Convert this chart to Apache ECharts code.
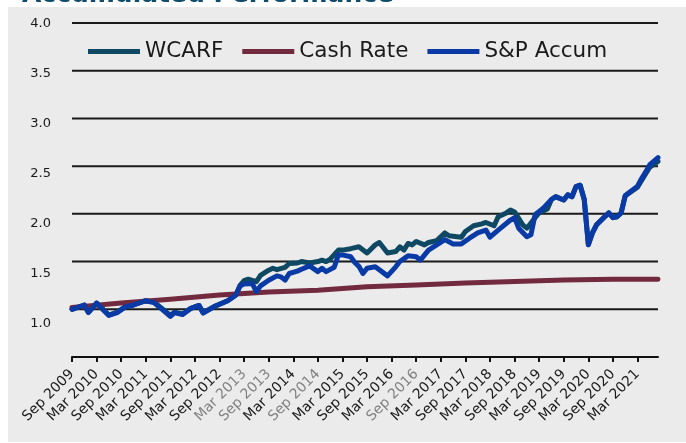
<!DOCTYPE html>
<html>
<head>
<meta charset="utf-8">
<script src="https://cdn.jsdelivr.net/npm/echarts@6.0.0/dist/echarts.min.js"></script>
<style>
  body { margin: 0; background: #ffffff; }
  #chart { width: 686px; height: 443px; }
</style>
</head>
<body>
<div id="chart"></div>
<script>
var FONT = '"DejaVu Sans", Verdana, sans-serif';
var title = 'Accumulated Performance';

// monthly categories, Sep 2009 .. Aug 2021
var monthNames = ['Jan', 'Feb', 'Mar', 'Apr', 'May', 'Jun', 'Jul', 'Aug', 'Sep', 'Oct', 'Nov', 'Dec'];
var months = [];
for (var k = 0; k < 144; k++) {
  var m = (8 + k) % 12;
  var yr = 2009 + Math.floor((8 + k) / 12);
  months.push(monthNames[m] + ' ' + yr);
}
// labels that come out grey in the original picture
var greyLabels = ['Mar 2013', 'Sep 2013', 'Sep 2014', 'Sep 2016'];
var yLabels = ['1.0', '1.5', '2.0', '2.5', '3.0', '3.5', '4.0'];
// horizontal rules (0.5 is the x axis itself)
var gridLevels = [1.0, 1.5, 2.0, 2.5, 3.0, 3.5, 4.0];

// [month index, value]
var wcarf = [[0,1.0],[3,1.045],[4,0.97],[6,1.065],[9,0.94],[11,0.97],[13,1.025],[15,1.045],[18,1.09],[20,1.075],
  [22,1.005],[24,0.935],[25,0.97],[27,0.95],[29,1.01],[31,1.04],[32,0.965],[35,1.035],[38,1.09],[40,1.15],
  [41,1.25],[42,1.30],[43,1.315],[45,1.29],[46,1.355],[48,1.41],[49,1.43],[50,1.415],[52,1.44],[53,1.48],
  [55,1.485],[56,1.50],[58,1.485],[60,1.50],[61,1.515],[62,1.50],[63,1.525],[65,1.62],[66,1.62],[68,1.635],
  [70,1.655],[72,1.59],[74,1.675],[75,1.70],[77,1.59],[79,1.605],[80,1.655],[81,1.62],[82,1.69],[83,1.675],
  [84,1.71],[86,1.675],[87,1.70],[89,1.72],[91,1.80],[92,1.77],[95,1.755],[96,1.815],[98,1.875],[100,1.895],
  [101,1.91],[103,1.875],[104,1.97],[106,2.01],[107,2.04],[108,2.02],[110,1.885],[111,1.85],[113,1.96],[114,2.01],
  [116,2.05],[117,2.15],[118,2.18],[120,2.145],[121,2.20],[122,2.18],[123,2.285],[124,2.30],[125,2.15],[126,1.68],
  [127,1.80],[128,1.885],[130,1.97],[131,2.01],[132,1.96],[133,1.97],[134,2.01],[135,2.19],[136,2.22],[138,2.28],
  [139,2.35],[140,2.42],[141,2.49],[143,2.55]];

var cashRate = [[0,1.02],[12,1.065],[24,1.105],[36,1.15],[48,1.18],[60,1.20],[72,1.235],[84,1.255],[96,1.275],
  [108,1.29],[120,1.308],[132,1.314],[143,1.316]];

var spAccum = [[0,1.0],[3,1.045],[4,0.965],[6,1.065],[9,0.935],[11,0.965],[13,1.025],[15,1.045],[18,1.09],[20,1.07],
  [22,1.0],[24,0.925],[25,0.965],[27,0.945],[29,1.01],[31,1.04],[32,0.96],[35,1.035],[38,1.09],[40,1.15],
  [41,1.245],[42,1.265],[44,1.27],[45,1.185],[46,1.245],[48,1.305],[50,1.35],[51,1.34],[52,1.305],[53,1.375],
  [55,1.40],[56,1.42],[58,1.455],[60,1.395],[61,1.43],[62,1.395],[64,1.44],[65,1.57],[66,1.57],[68,1.55],
  [69,1.49],[70,1.45],[71,1.375],[72,1.43],[74,1.445],[77,1.35],[79,1.445],[80,1.50],[82,1.56],[84,1.55],
  [85,1.515],[87,1.62],[89,1.675],[91,1.73],[93,1.685],[95,1.685],[97,1.745],[99,1.80],[101,1.83],[102,1.755],
  [104,1.83],[107,1.935],[108,1.96],[109,1.85],[111,1.76],[112,1.78],[113,1.99],[115,2.06],[117,2.15],[118,2.18],
  [120,2.145],[121,2.20],[122,2.18],[123,2.285],[124,2.30],[125,2.15],[126,1.675],[127,1.80],[128,1.885],[130,1.97],
  [131,2.01],[132,1.96],[133,1.97],[134,2.01],[135,2.19],[136,2.225],[138,2.29],[139,2.37],[140,2.44],[141,2.515],
  [143,2.59]];

var colWcarf = '#0f4862';
var colCash = '#722a3e';
var colSp = '#0a3aa6';

var chart = echarts.init(document.getElementById('chart'));

function lineSeries(name, data, color) {
  return {
    name: name,
    type: 'line',
    data: data,
    symbol: 'none',
    showSymbol: false,
    z: 3,
    itemStyle: { color: color },
    lineStyle: { color: color, width: 5, join: 'round', cap: 'round' }
  };
}

// gridlines as flat lines across the whole range, under the data
var series = gridLevels.map(function (lvl) {
  return {
    type: 'line',
    data: [[0, lvl], [months.length - 1, lvl]],
    symbol: 'none',
    silent: true,
    z: 1,
    lineStyle: { color: '#1a1a1a', width: 2 }
  };
});
series.push(lineSeries('WCARF', wcarf, colWcarf));
series.push(lineSeries('Cash Rate', cashRate, colCash));
series.push(lineSeries('S&P Accum', spAccum, colSp));

chart.setOption({
  animation: false,
  // grey panel; the white margin on top and left is painted over it below
  backgroundColor: '#ebebeb',
  textStyle: { fontFamily: FONT },
  graphic: [
    { type: 'rect', silent: true, shape: { x: 0, y: 0, width: 686, height: 7 }, style: { fill: '#ffffff' } },
    { type: 'rect', silent: true, shape: { x: 0, y: 0, width: 8, height: 443 }, style: { fill: '#ffffff' } },
    { type: 'rect', silent: true, shape: { x: 0, y: 442, width: 686, height: 1 }, style: { fill: '#ffffff' } },
    {
      type: 'text', silent: true, x: 22, y: -4.5,
      style: {
        text: title, font: 'bold 25px ' + FONT, fill: '#0f4c6b',
        align: 'left', verticalAlign: 'middle'
      }
    }
  ],
  legend: {
    data: ['WCARF', 'Cash Rate', 'S&P Accum'],
    left: 88,
    top: 40.5,
    padding: 0,
    icon: 'rect',
    itemWidth: 52,
    itemHeight: 5,
    itemGap: 19,
    textStyle: { fontSize: 21.5, color: '#1a1a1a', fontFamily: FONT }
  },
  grid: [
    { left: 72, right: 28, top: 23, bottom: 86, containLabel: false, outerBoundsMode: 'none' },
    // only carries the y labels, which sit a little off the gridlines in the original
    { left: 72, right: 28, top: 23.7, bottom: 119.7, containLabel: false, outerBoundsMode: 'none' }
  ],
  xAxis: [
    {
      type: 'category',
      gridIndex: 0,
      data: months,
      boundaryGap: false,
      axisLine: { lineStyle: { color: '#111111', width: 2 } },
      axisTick: { interval: 5, length: 5, lineStyle: { color: '#111111', width: 2 } },
      axisLabel: {
        interval: 5,
        rotate: 45,
        margin: 15,
        fontSize: 14,
        fontFamily: FONT,
        color: function (value) {
          return greyLabels.indexOf(value) >= 0 ? '#808080' : '#1a1a1a';
        }
      },
      splitLine: { show: false }
    },
    { type: 'category', gridIndex: 1, data: months, show: false }
  ],
  yAxis: [
    {
      type: 'value',
      gridIndex: 0,
      min: 0.5,
      max: 4.0,
      interval: 0.5,
      axisLine: { show: false },
      axisTick: { show: false },
      axisLabel: { show: false },
      splitLine: { show: false }
    },
    {
      type: 'value',
      gridIndex: 1,
      min: 1.0,
      max: 4.0,
      interval: 0.5,
      axisLine: { show: false },
      axisTick: { show: false },
      splitLine: { show: false },
      axisLabel: {
        margin: 21,
        fontSize: 13,
        fontFamily: FONT,
        color: '#1a1a1a',
        formatter: function (v) {
          return yLabels[Math.round((v - 1) / 0.5)];
        }
      }
    }
  ],
  series: series
});
</script>
</body>
</html>
